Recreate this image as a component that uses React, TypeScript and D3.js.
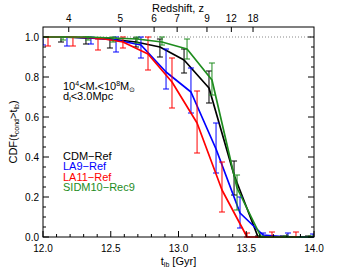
import * as d3 from "d3";
import React from "react";

// lookback-time samples and CDF values
const cdmT = [11.949, 12.133, 12.317, 12.494, 12.686, 12.863, 13.041, 13.225, 13.41, 13.587, 13.771, 13.956];
const cdmCdf = [1.0, 1.0, 0.995, 0.99, 0.975, 0.95, 0.885, 0.745, 0.31, 0.0, 0.0, 0.0];
const cdmLo = [0.975, 0.975, 0.965, 0.945, 0.95, 0.9, 0.82, 0.67, 0.21, 0, 0, 0];
const cdmHi = [1.0, 1.0, 1.0, 0.995, 0.995, 0.99, 0.94, 0.83, 0.38, 0.005, 0.005, 0.005];

const la9T = [12.0, 12.177, 12.354, 12.539, 12.723, 12.908, 13.092, 13.277, 13.454, 13.624, 13.808, 13.993];
const la9Cdf = [1.0, 1.0, 0.995, 0.985, 0.96, 0.825, 0.725, 0.44, 0.12, 0.01, 0.0, 0.0];
const la9Lo = [0.96, 0.955, 0.965, 0.925, 0.895, 0.74, 0.62, 0.32, 0.045, 0, 0, 0];
const la9Hi = [1.0, 1.0, 1.0, 1.0, 1.0, 0.94, 0.845, 0.57, 0.2, 0.02, 0.02, 0.015];

const la11T = [11.852, 12.037, 12.221, 12.406, 12.59, 12.775, 12.952, 13.137, 13.321, 13.506, 13.69, 13.867];
const la11Cdf = [1.0, 1.0, 1.0, 0.995, 0.975, 0.915, 0.775, 0.57, 0.235, 0.0, 0.0, 0.0];
const la11Lo = [0.955, 0.955, 0.955, 0.935, 0.945, 0.835, 0.645, 0.42, 0.125, 0, 0, 0];
const la11Hi = [1.0, 1.0, 1.0, 0.99, 1.0, 1.0, 0.895, 0.73, 0.375, 0.02, 0.025, 0.025];

const sidmT = [11.963, 12.148, 12.332, 12.517, 12.694, 12.878, 13.063, 13.247, 13.432, 13.609, 13.793, 13.978];
const sidmCdf = [1.0, 1.0, 1.0, 0.995, 0.99, 0.975, 0.94, 0.785, 0.245, 0.0, 0.0, 0.0];
const sidmLo = [0.99, 0.985, 0.985, 0.975, 0.97, 0.96, 0.89, 0.71, 0.135, 0, 0, 0];
const sidmHi = [1.0, 1.0, 1.0, 1.0, 1.0, 1.0, 0.99, 0.87, 0.31, 0.005, 0.005, 0.005];

const seriesNames = ["CDM\u2212Ref", "LA9\u2212Ref", "LA11\u2212Ref", "SIDM10\u2212Rec9"];
const seriesColors = ["#000000", "#0000ff", "#ff0000", "#1e8c1e"];

// redshift ticks on the top axis, at their lookback times
const zLabels = ["4", "5", "6", "7", "9", "12", "18"];
const zTimes = [12.19, 12.57, 12.82, 12.99, 13.21, 13.39, 13.55];

const xTicks = [12.0, 12.5, 13.0, 13.5, 14.0];
const yTicks = [0.0, 0.2, 0.4, 0.6, 0.8, 1.0];

const width = 340;
const height = 272;
const margin = { top: 27, right: 26, bottom: 35, left: 43 };
const font = "'Liberation Sans', Arial, Helvetica, sans-serif";

export default function App() {
  const x = d3.scaleLinear().domain([12, 14]).range([margin.left, width - margin.right]);
  const y = d3.scaleLinear().domain([0, 1.05]).range([height - margin.bottom, margin.top]);
  const x0 = margin.left, x1 = width - margin.right;
  const y0 = height - margin.bottom, y1 = margin.top;

  const series = [
    { t: cdmT, c: cdmCdf, lo: cdmLo, hi: cdmHi },
    { t: la9T, c: la9Cdf, lo: la9Lo, hi: la9Hi },
    { t: la11T, c: la11Cdf, lo: la11Lo, hi: la11Hi },
    { t: sidmT, c: sidmCdf, lo: sidmLo, hi: sidmHi },
  ];

  const xMinor = d3.range(12, 14.001, 0.1);
  const yMinor = d3.range(0, 1.0001, 0.05);

  return (
    <svg
      width={width}
      height={height}
      style={{ position: "absolute", left: 0, top: 0, background: "#fff" }}
      fontFamily={font}
    >
      <defs>
        <clipPath id="plotArea">
          <rect x={x0} y={y1} width={x1 - x0} height={y0 - y1 + 2} />
        </clipPath>
      </defs>

      {/* dotted line at CDF = 1 */}
      <line x1={x0} x2={x1} y1={y(1)} y2={y(1)} stroke="#888" strokeWidth={1} strokeDasharray="1,2" />

      <g clipPath="url(#plotArea)">
        {series.map((s, k) => {
          const pts: [number, number][] = s.t.map((t, i) => [x(t), y(s.c[i])]);
          const path = d3.line()(pts);
          return (
            <g key={k}>
              {s.t.map((t, i) => {
                const cx = x(t);
                const a = y(s.lo[i]);
                const b = y(s.hi[i]);
                return (
                  <g key={i} stroke={seriesColors[k]} strokeWidth={1}>
                    <line x1={cx} x2={cx} y1={a} y2={b} />
                    <line x1={cx - 3} x2={cx + 3} y1={a} y2={a} />
                    <line x1={cx - 3} x2={cx + 3} y1={b} y2={b} />
                  </g>
                );
              })}
              <path d={path || ""} fill="none" stroke={seriesColors[k]} strokeWidth={1.7} strokeLinejoin="round" />
            </g>
          );
        })}
      </g>

      {/* frame */}
      <rect x={x0} y={y1} width={x1 - x0} height={y0 - y1} fill="none" stroke="#000" strokeWidth={1} />

      {/* bottom axis ticks */}
      {xMinor.map((t, i) => {
        const major = Math.abs(t * 2 - Math.round(t * 2)) < 1e-6;
        return (
          <line key={"xm" + i} x1={x(t)} x2={x(t)} y1={y0} y2={y0 - (major ? 6 : 3)} stroke="#000" />
        );
      })}
      {xTicks.map((t) => (
        <text key={"xt" + t} x={x(t)} y={252} fontSize={10} textAnchor="middle">
          {t.toFixed(1)}
        </text>
      ))}
      <text x={(x0 + x1) / 2} y={265} fontSize={11} textAnchor="middle">
        t<tspan fontSize={7} dy={2}>lb</tspan>
        <tspan dy={-2}> [Gyr]</tspan>
      </text>

      {/* left and right axis ticks */}
      {yMinor.map((v, i) => {
        const major = Math.abs(v * 5 - Math.round(v * 5)) < 1e-6;
        const len = major ? 6 : 3;
        return (
          <g key={"ym" + i} stroke="#000">
            <line x1={x0} x2={x0 + len} y1={y(v)} y2={y(v)} />
            <line x1={x1} x2={x1 - len} y1={y(v)} y2={y(v)} />
          </g>
        );
      })}
      {yTicks.map((v) => (
        <text key={"yt" + v} x={39} y={y(v) + 3.5} fontSize={10} textAnchor="end">
          {v.toFixed(1)}
        </text>
      ))}
      <text transform={`translate(17,${132}) rotate(-90)`} fontSize={11} textAnchor="middle">
        CDF(t<tspan fontSize={7} dy={2}>cond</tspan>
        <tspan dy={-2}>&gt;t</tspan>
        <tspan fontSize={7} dy={2}>lb</tspan>
        <tspan dy={-2}>)</tspan>
      </text>

      {/* top redshift axis */}
      {zTimes.map((t, i) => (
        <g key={"z" + i}>
          <line x1={x(t)} x2={x(t)} y1={y1} y2={y1 + 5} stroke="#000" />
          <text x={x(t)} y={22} fontSize={10} textAnchor="middle">
            {zLabels[i]}
          </text>
        </g>
      ))}
      <text x={178} y={12} fontSize={11} textAnchor="middle">
        Redshift, z
      </text>

      {/* annotation */}
      <text x={63} y={90} fontSize={11}>
        10<tspan fontSize={7} dy={-4}>4</tspan>
        <tspan dy={4}>&lt;M</tspan>
        <tspan fontSize={7} dy={2}>*</tspan>
        <tspan dy={-2}>&lt;10</tspan>
        <tspan fontSize={7} dy={-4}>8</tspan>
        <tspan dy={4}>M</tspan>
        <tspan fontSize={7} dy={2}>{"\u2299"}</tspan>
      </text>
      <text x={63} y={100} fontSize={11}>
        d<tspan fontSize={7} dy={2}>l</tspan>
        <tspan dy={-2}>&lt;3.0Mpc</tspan>
      </text>

      {/* legend */}
      {seriesNames.map((n, i) => (
        <text key={n} x={63} y={160 + i * 10.3} fontSize={11} fill={seriesColors[i]}>
          {n}
        </text>
      ))}
    </svg>
  );
}
